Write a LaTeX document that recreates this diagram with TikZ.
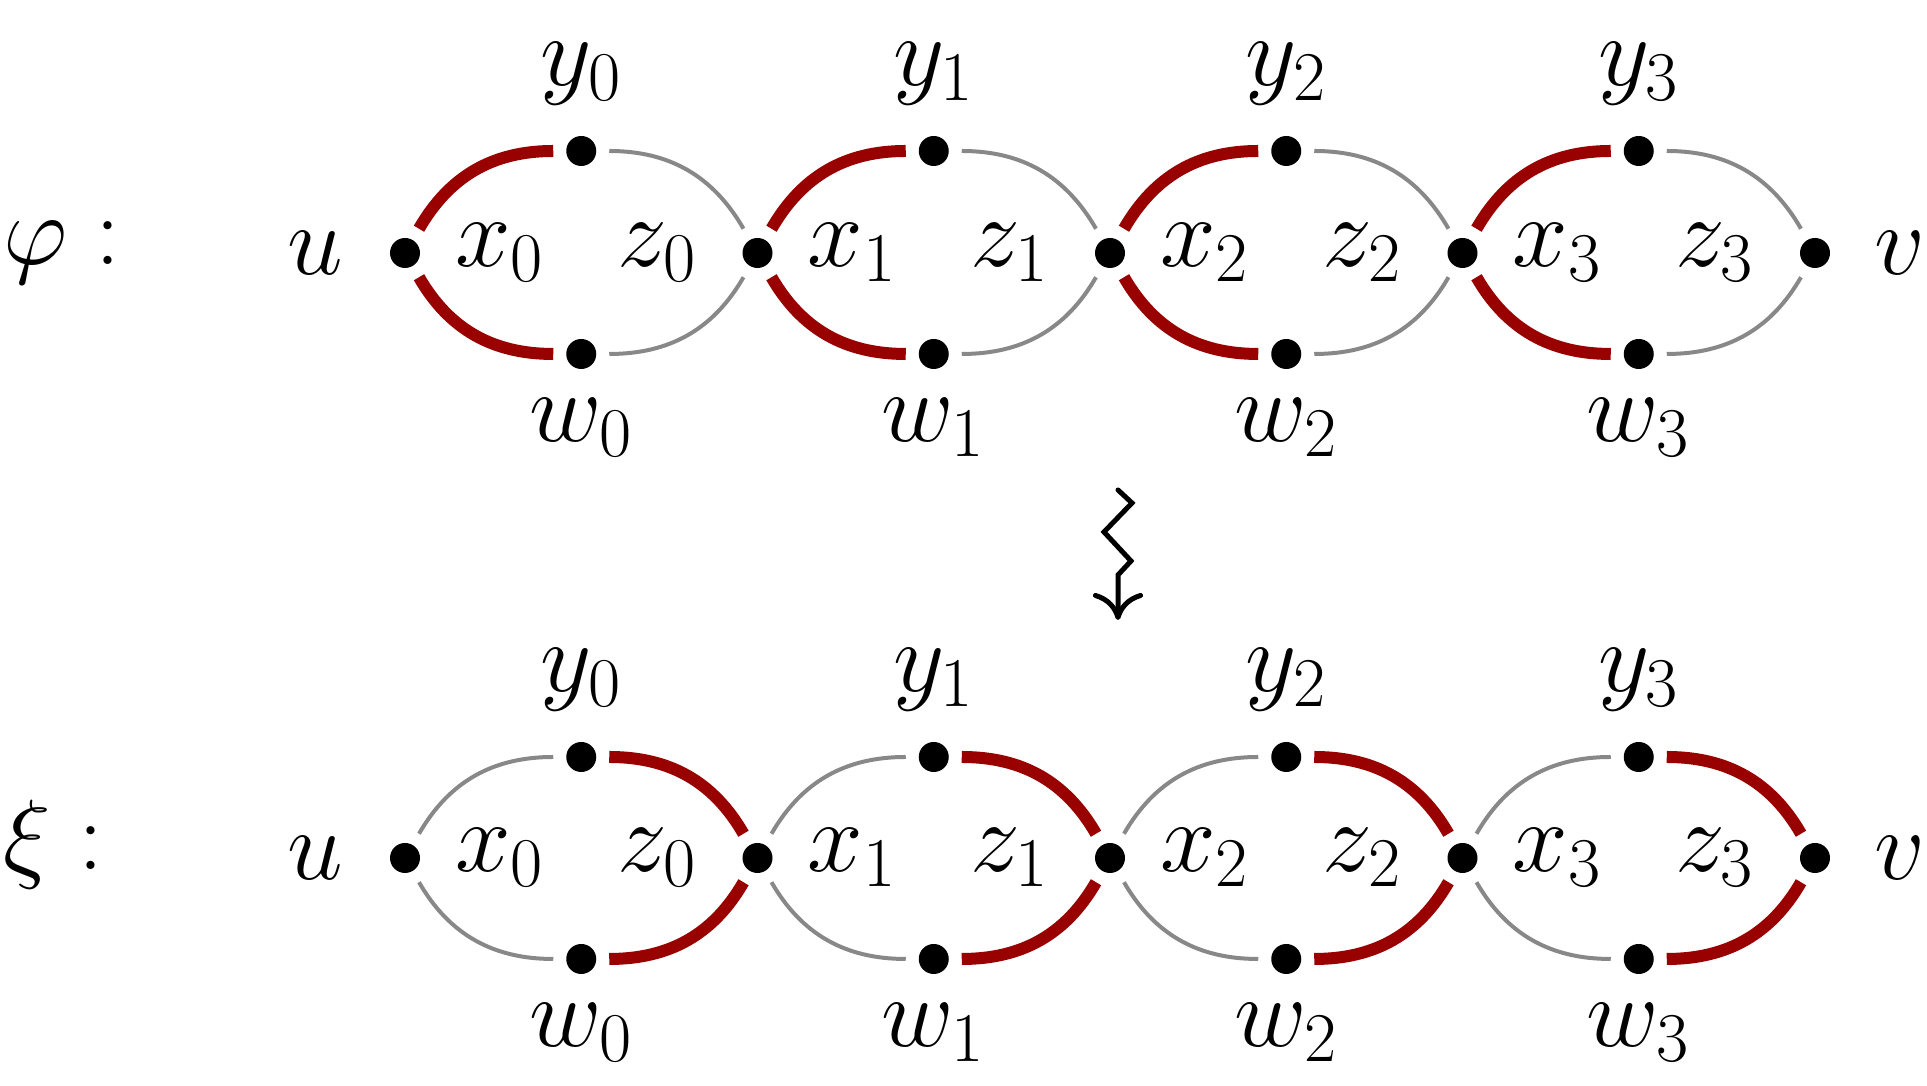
\RequirePackage{fix-cm}
\documentclass[tikz,border=0pt]{standalone}
\usetikzlibrary{arrows.meta}
\definecolor{pathred}{RGB}{153,0,0}
\definecolor{pathgray}{RGB}{136,136,136}
\begin{document}
\begin{tikzpicture}[
   x=1cm,y=1cm,
   vertex/.style={circle,fill=black,inner sep=0pt,minimum size=0.3cm,outer sep=0.13cm},
   hot/.style={draw=pathred,line width=0.12cm},
   cold/.style={draw=pathgray,line width=0.04cm},
   every node/.style={font=\fontsize{28.4}{34}\selectfont}
 ]
  \useasboundingbox (0,0) rectangle (19.27,10.86);
  % top row: varphi
  \node[anchor=base west,inner sep=0pt] (phi) at (0.03,8.21) {$\varphi:$};
  \foreach \k in {0,...,4} \node[vertex] (a\k) at (4.05+3.525*\k,8.33) {};
  \foreach \k in {0,...,3} {
    \pgfmathtruncatemacro{\n}{\k+1}
    \node[vertex] (ay\k) at (5.8125+3.525*\k,9.35) {};
    \node[vertex] (aw\k) at (5.8125+3.525*\k,7.32) {};
    \draw[hot] (a\k) to[out=60,in=180] (ay\k);
    \draw[hot] (a\k) to[out=-60,in=180] (aw\k);
    \draw[cold] (ay\k) to[out=0,in=120] (a\n);
    \draw[cold] (aw\k) to[out=0,in=-120] (a\n);
    \node (ax\k) at (5.0+3.525*\k,8.33) {$x_\k$};
    \node (az\k) at (6.575+3.525*\k,8.33) {$z_\k$};
    \node[anchor=base] (ayl\k) at (5.8125+3.525*\k,10.0) {$y_\k$};
    \node[anchor=base] (awl\k) at (5.8125+3.525*\k,6.44) {$w_\k$};
  }
  \node (au) at (3.15,8.33) {$u$};
  \node (av) at (19.0,8.33) {$v$};
  % squiggly arrow
  \coordinate (sqtop) at (11.18,5.96);
  \coordinate (sqtip) at (11.18,4.66);
  \draw[line width=0.05cm,line cap=round,-{Computer Modern Rightarrow[length=0.27cm,width=0.5cm]}]
    (sqtop) -- ++(0.14,-0.13) -- ++(-0.28,-0.29) -- ++(0.27,-0.29) -- ++(-0.13,-0.14) -- (sqtip);
  % bottom row: xi
  \node[anchor=base west,inner sep=0pt] (xi) at (0.03,2.16) {$\xi:$};
  \foreach \k in {0,...,4} \node[vertex] (b\k) at (4.05+3.525*\k,2.28) {};
  \foreach \k in {0,...,3} {
    \pgfmathtruncatemacro{\n}{\k+1}
    \node[vertex] (by\k) at (5.8125+3.525*\k,3.29) {};
    \node[vertex] (bw\k) at (5.8125+3.525*\k,1.27) {};
    \draw[cold] (b\k) to[out=60,in=180] (by\k);
    \draw[cold] (b\k) to[out=-60,in=180] (bw\k);
    \draw[hot] (by\k) to[out=0,in=120] (b\n);
    \draw[hot] (bw\k) to[out=0,in=-120] (b\n);
    \node (bx\k) at (5.0+3.525*\k,2.28) {$x_\k$};
    \node (bz\k) at (6.575+3.525*\k,2.28) {$z_\k$};
    \node[anchor=base] (byl\k) at (5.8125+3.525*\k,3.94) {$y_\k$};
    \node[anchor=base] (bwl\k) at (5.8125+3.525*\k,0.39) {$w_\k$};
  }
  \node (bu) at (3.15,2.28) {$u$};
  \node (bv) at (19.0,2.28) {$v$};
\end{tikzpicture}
\end{document}
